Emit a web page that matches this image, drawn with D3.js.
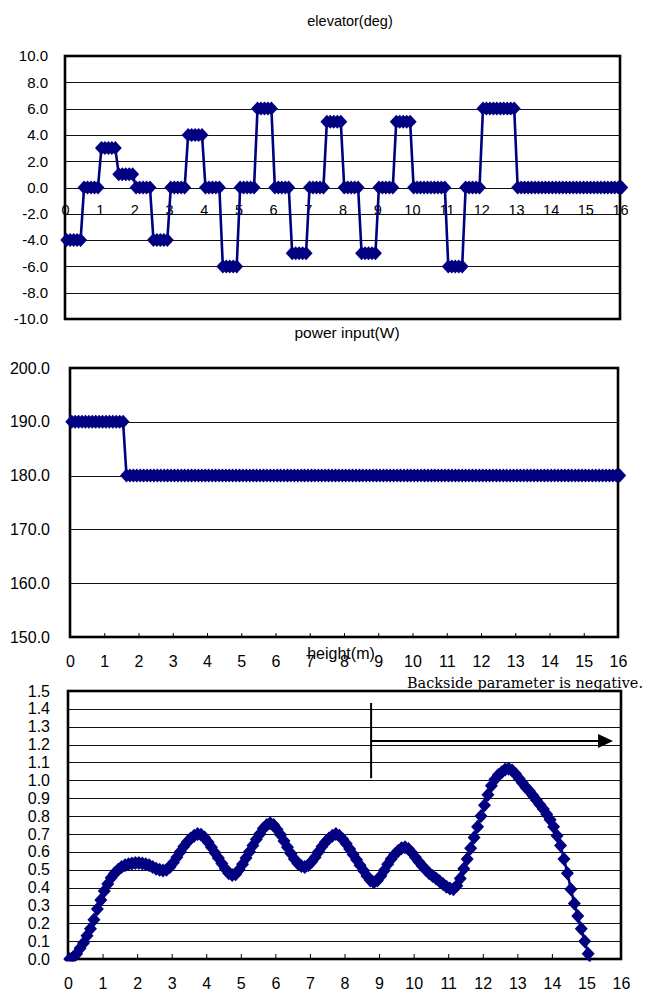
<!DOCTYPE html>
<html><head><meta charset="utf-8">
<script src="https://cdn.jsdelivr.net/npm/d3@7"></script>
<style>
body{margin:0;background:#fff}
svg{display:block}
</style>
</head><body>
<svg id="c" width="653" height="997"></svg>
<script>
// ---------- data ----------
const xTickValues = [0,1,2,3,4,5,6,7,8,9,10,11,12,13,14,15,16];
const elevTicks = [-10,-8,-6,-4,-2,0,2,4,6,8,10];
const powerTicks = [150,160,170,180,190,200];
const heightTicks = [0,0.1,0.2,0.3,0.4,0.5,0.6,0.7,0.8,0.9,1.0,1.1,1.2,1.3,1.4,1.5];
const timeStart = 0.05, timeStep = 0.1; // sample times (s)

const elevator = [
 -4,-4,-4,-4,-4, 0,0,0,0,0,
 3,3,3,3,3, 1,1,1,1,1,
 0,0,0,0,0, -4,-4,-4,-4,-4,
 0,0,0,0,0, 4,4,4,4,4,
 0,0,0,0,0, -6,-6,-6,-6,-6,
 0,0,0,0,0, 6,6,6,6,6,
 0,0,0,0,0, -5,-5,-5,-5,-5,
 0,0,0,0,0, 5,5,5,5,5,
 0,0,0,0,0, -5,-5,-5,-5,-5,
 0,0,0,0,0, 5,5,5,5,5,
 0,0,0,0,0, 0,0,0,0,0,
 -6,-6,-6,-6,-6, 0,0,0,0,0,
 6,6,6,6,6, 6,6,6,6,6,
 0,0,0,0,0, 0,0,0,0,0,
 0,0,0,0,0, 0,0,0,0,0,
 0,0,0,0,0, 0,0,0,0,0,
 0
];

const power = [
 190,190,190,190,190,190,190,190,190,190,
 190,190,190,190,190,190,180,180,180,180,
 180,180,180,180,180,180,180,180,180,180,
 180,180,180,180,180,180,180,180,180,180,
 180,180,180,180,180,180,180,180,180,180,
 180,180,180,180,180,180,180,180,180,180,
 180,180,180,180,180,180,180,180,180,180,
 180,180,180,180,180,180,180,180,180,180,
 180,180,180,180,180,180,180,180,180,180,
 180,180,180,180,180,180,180,180,180,180,
 180,180,180,180,180,180,180,180,180,180,
 180,180,180,180,180,180,180,180,180,180,
 180,180,180,180,180,180,180,180,180,180,
 180,180,180,180,180,180,180,180,180,180,
 180,180,180,180,180,180,180,180,180,180,
 180,180,180,180,180,180,180,180,180,180,
 180
];

const height = [
 0,0.01,0.03,0.06,0.09,0.13,0.17,0.22,0.28,0.33,
 0.38,0.42,0.455,0.48,0.5,0.515,0.525,0.53,0.535,0.537,
 0.537,0.535,0.53,0.525,0.515,0.505,0.5,0.495,0.5,0.515,
 0.54,0.57,0.6,0.63,0.655,0.675,0.69,0.7,0.695,0.68,
 0.655,0.625,0.595,0.565,0.535,0.505,0.48,0.47,0.475,0.5,
 0.53,0.565,0.6,0.635,0.67,0.7,0.73,0.75,0.76,0.75,
 0.725,0.695,0.66,0.625,0.59,0.56,0.535,0.52,0.515,0.525,
 0.545,0.57,0.6,0.63,0.655,0.675,0.69,0.7,0.69,0.67,
 0.645,0.615,0.585,0.555,0.525,0.495,0.465,0.44,0.43,0.44,
 0.465,0.495,0.53,0.56,0.585,0.605,0.62,0.625,0.615,0.595,
 0.57,0.545,0.52,0.5,0.48,0.465,0.45,0.435,0.42,0.405,
 0.395,0.39,0.41,0.45,0.505,0.56,0.62,0.68,0.74,0.8,
 0.86,0.92,0.97,1.005,1.03,1.045,1.06,1.065,1.055,1.035,
 1.01,0.985,0.96,0.94,0.915,0.89,0.865,0.84,0.81,0.78,
 0.74,0.69,0.635,0.56,0.48,0.39,0.31,0.24,0.17,0.1,
 0.03,-0.06
];

// annotation (data units of the height chart)
const markTime = 8.77, markTop = 1.433, markBottom = 1.012;
const arrowLevel = 1.22, arrowEnd = 15.77;
const annotationText = "Backside parameter is negative.";

// ---------- drawing ----------
const svg = d3.select('#c');
const SANS = '"Liberation Sans", Arial, sans-serif';
const NAVY = '#000080';
const diamond = 'M0,-7L6.5,0L0,7L-6.5,0Z';

svg.append('defs').append('clipPath').attr('id','clipH')
  .append('rect').attr('x',0).attr('y',0).attr('width',653).attr('height',961.5);

function chart(o){
  const x = d3.scaleLinear().domain([0,16]).range([o.left,o.right]);
  const y = d3.scaleLinear().domain(o.yDomain).range([o.bottom,o.top]);
  const g = svg.append('g');

  // gridlines
  g.append('g').attr('transform',`translate(${o.left},0)`)
    .call(d3.axisLeft(y).tickValues(o.yTicks.slice(1,-1)).tickSize(-(o.right-o.left)).tickFormat(''))
    .call(a=>a.select('.domain').remove())
    .call(a=>a.selectAll('line').attr('stroke','#111').attr('stroke-width',1).attr('shape-rendering','crispEdges'));

  // y labels
  g.append('g').attr('transform',`translate(${o.left},0)`)
    .call(d3.axisLeft(y).tickValues(o.yTicks).tickSize(0).tickPadding(o.yPad).tickFormat(d=>d.toFixed(1)))
    .call(a=>a.select('.domain').remove())
    .attr('font-family',SANS).attr('font-size',o.yFont)
    .call(a=>a.selectAll('text').attr('fill','#000'));

  // x axis labels (+ inward ticks)
  const xa = d3.axisBottom(x).tickValues(xTickValues).tickFormat(d3.format('d'))
    .tickSizeOuter(0).tickSizeInner(o.tickIn ? -o.tickIn : 0).tickPadding(o.xPad);
  g.append('g').attr('transform',`translate(0,${o.xAxisAt(y)})`)
    .call(xa)
    .call(a=>a.select('.domain').remove())
    .attr('font-family',SANS).attr('font-size',o.xFont)
    .call(a=>a.selectAll('line').attr('stroke','#000').attr('stroke-width',1))
    .call(a=>a.selectAll('text').attr('fill','#000'));

  // frame
  g.append('rect').attr('x',o.left).attr('y',o.top)
    .attr('width',o.right-o.left).attr('height',o.bottom-o.top)
    .attr('fill','none').attr('stroke','#000').attr('stroke-width',2.6);

  // title
  g.append('text').attr('x',o.titleX).attr('y',o.titleY).attr('text-anchor','middle')
    .attr('font-family',SANS).attr('font-size',o.titleFont).attr('fill','#000').text(o.title);

  // series
  const pts = o.values.map((v,i)=>({t: timeStart + i*timeStep, v}));
  const s = g.append('g');
  if(o.clip) s.attr('clip-path','url(#clipH)');
  s.append('path').datum(pts)
    .attr('d', d3.line().x(d=>x(d.t)).y(d=>y(d.v)))
    .attr('fill','none').attr('stroke',NAVY).attr('stroke-width',2.6);
  s.selectAll('path.m').data(pts).join('path').attr('class','m')
    .attr('d',diamond)
    .attr('transform',d=>`translate(${x(d.t)},${y(d.v)})`)
    .attr('fill',NAVY);
  return {x,y,g};
}

// elevator
chart({left:65,right:620,top:56,bottom:319,yDomain:[-10,10],yTicks:elevTicks,
  yFont:15,yPad:17,xFont:14.5,xPad:17.5,tickIn:0,xAxisAt:y=>y(0),
  title:'elevator(deg)',titleX:350,titleY:26,titleFont:14.5,values:elevator});

// power
chart({left:70,right:618,top:368,bottom:637,yDomain:[150,200],yTicks:powerTicks,
  yFont:16,yPad:20,xFont:16,xPad:18.6,tickIn:4,xAxisAt:y=>y(150),
  title:'power input(W)',titleX:347,titleY:338,titleFont:15.5,values:power});

// height
const H = chart({left:68,right:621,top:691,bottom:959,yDomain:[0,1.5],yTicks:heightTicks,
  yFont:16,yPad:18,xFont:16,xPad:18.6,tickIn:5,xAxisAt:y=>y(0),
  title:'height(m)',titleX:341,titleY:659,titleFont:16,values:height,clip:true});

// annotation
const ag = svg.append('g');
ag.append('line')
  .attr('x1',H.x(markTime)).attr('x2',H.x(markTime))
  .attr('y1',H.y(markTop)).attr('y2',H.y(markBottom))
  .attr('stroke','#000').attr('stroke-width',2);
const ax1 = H.x(markTime), ax2 = H.x(arrowEnd), ay = H.y(arrowLevel);
ag.append('line').attr('x1',ax1).attr('x2',ax2-14).attr('y1',ay).attr('y2',ay)
  .attr('stroke','#000').attr('stroke-width',2);
ag.append('path').attr('d',`M${ax2},${ay}L${ax2-15},${ay-7}L${ax2-15},${ay+7}Z`).attr('fill','#000');
ag.append('text').attr('x',407).attr('y',688)
  .attr('font-family','"DejaVu Serif", "Liberation Serif", serif').attr('font-size',15)
  .attr('textLength',236).attr('lengthAdjust','spacingAndGlyphs')
  .attr('fill','#000').text(annotationText);
</script>
</body></html>
